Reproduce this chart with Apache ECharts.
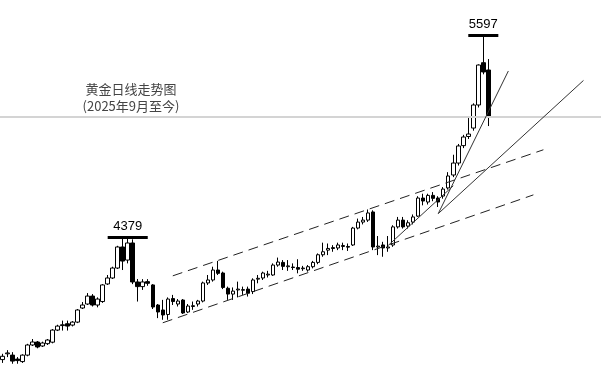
<!DOCTYPE html>
<html>
<head>
<meta charset="utf-8">
<script src="https://cdn.jsdelivr.net/npm/echarts@6/dist/echarts.min.js"></script>
<style>
  html, body { margin: 0; padding: 0; background: #fff; }
  #chart-container { width: 601px; height: 378px; }
</style>
</head>
<body>
<div id="chart-container"></div>
<script>
// 交易日（2025-09-15 至 2026-01-30）
var dates = [
  '9/15','9/16','9/17','9/18','9/19','9/22','9/23','9/24','9/25','9/26','9/29','9/30',
  '10/1','10/2','10/3','10/6','10/7','10/8','10/9','10/10','10/13','10/14','10/15','10/16','10/17',
  '10/20','10/21','10/22','10/23','10/24','10/27','10/28','10/29','10/30','10/31',
  '11/3','11/4','11/5','11/6','11/7','11/10','11/11','11/12','11/13','11/14',
  '11/17','11/18','11/19','11/20','11/21','11/24','11/25','11/26','11/27','11/28',
  '12/1','12/2','12/3','12/4','12/5','12/8','12/9','12/10','12/11','12/12',
  '12/15','12/16','12/17','12/18','12/19','12/22','12/23','12/24','12/26','12/29','12/30','12/31',
  '1/2','1/5','1/6','1/7','1/8','1/9','1/12','1/13','1/14','1/15','1/16',
  '1/19','1/20','1/21','1/22','1/23','1/26','1/27','1/28','1/29','1/30'
];
// 右侧留白（空的类目位，供趋势线延伸）
var blankSlots = 22;

// [开盘, 收盘, 最低, 最高]
var kline = [
  [3640,3660,3620,3675],[3675,3680,3655,3697],[3667,3631,3615,3685],[3643,3634,3615,3655],
  [3628,3667,3620,3672],[3667,3728,3660,3735],[3728,3746,3722,3764],[3746,3716,3708,3752],
  [3722,3740,3716,3748],[3736,3758,3728,3764],[3745,3818,3738,3824],[3818,3842,3812,3850],
  [3845,3850,3815,3875],[3856,3842,3815,3875],[3848,3866,3840,3872],[3866,3939,3860,3945],
  [3951,3969,3945,3987],[3975,4023,3969,4041],[4023,3969,3960,4035],[3969,4005,3955,4015],
  [3990,4090,3982,4095],[4096,4132,4090,4150],[4132,4192,4126,4200],[4192,4319,4186,4326],
  [4319,4234,4180,4379],[4240,4343,4220,4370],[4343,4108,4095,4365],[4108,4080,3990,4126],
  [4080,4108,4060,4125],[4110,4100,4085,4125],[4090,3957,3945,4095],[3969,3927,3890,3975],
  [3939,3909,3880,4000],[3912,4005,3880,4015],[4008,3990,3969,4030],[3975,3993,3960,4005],
  [3999,3921,3915,4005],[3927,3963,3921,3975],[3960,3965,3940,3990],[3975,3993,3960,4000],
  [3993,4102,3985,4110],[4102,4120,4090,4150],[4120,4180,4110,4200],[4180,4160,4150,4235],
  [4162,4075,4065,4170],[4070,4035,4000,4080],[4035,4053,4000,4075],[4060,4065,4015,4110],
  [4058,4062,4030,4080],[4065,4040,4020,4080],[4050,4120,4035,4130],[4125,4130,4100,4150],
  [4132,4162,4120,4170],[4150,4155,4135,4175],[4150,4210,4145,4220],[4210,4228,4200,4255],
  [4226,4202,4180,4240],[4200,4205,4175,4240],[4198,4195,4180,4220],[4195,4185,4160,4245],
  [4188,4192,4175,4205],[4180,4200,4170,4210],[4200,4226,4190,4235],[4226,4272,4215,4280],
  [4272,4290,4260,4345],[4300,4310,4270,4340],[4315,4310,4290,4330],[4313,4331,4300,4345],
  [4322,4328,4300,4345],[4322,4318,4295,4340],[4331,4433,4325,4440],[4433,4469,4425,4490],
  [4469,4481,4455,4500],[4481,4524,4470,4545],[4530,4319,4300,4540],[4319,4324,4270,4385],
  [4331,4313,4260,4350],[4313,4319,4290,4385],[4331,4440,4320,4450],[4440,4481,4430,4500],
  [4481,4440,4430,4500],[4445,4465,4430,4480],[4469,4500,4455,4515],[4505,4614,4500,4625],
  [4614,4596,4570,4640],[4590,4630,4575,4640],[4630,4612,4595,4650],[4614,4590,4560,4625],
  [4626,4668,4610,4680],[4675,4747,4665,4770],[4753,4825,4740,4875],[4825,4928,4810,4940],
  [4930,4982,4915,4995],[4985,5000,4970,5100],[5036,5175,5020,5185],[5175,5416,5160,5420],
  [5430,5374,5360,5597],[5386,5103,5048,5452]
];

// 标注：高点
var peakHigh = { from: 93, to: 99, price: 5597 };
var peakLow = { from: 21, to: 29, price: 4379 };
var levelLine = 5103;

// 通道（虚线）与趋势线：[起点索引, 起点价格, 终点索引, 终点价格]
var channelUpper = [34, 4145, 108, 4905];
var channelLower = [32, 3862, 106, 4633];
var trendLines = [
  [77, 4328, 90, 4688],
  [87, 4520, 101, 5380],
  [87, 4520, 116, 5323]
];

var categories = dates.slice();
for (var i = 0; i < blankSlots; i++) categories.push('');

var container = document.getElementById('chart-container');
var myChart = echarts.init(container, null, { renderer: 'canvas' });

function seg(p, style) {
  return [
    { coord: [p[0], p[1]], lineStyle: style },
    { coord: [p[2], p[3]] }
  ];
}

function peakSeg(pk) {
  return [
    {
      coord: [pk.from, pk.price],
      lineStyle: { color: '#000', width: 3, type: 'solid' },
      label: {
        show: true,
        formatter: String(pk.price),
        position: 'insideMiddleTop',
        distance: 4,
        color: '#000',
        fontSize: 13,
        fontFamily: 'Liberation Sans, Arial, sans-serif'
      }
    },
    { coord: [pk.to, pk.price] }
  ];
}

var dashStyle = { color: '#222', width: 1, type: [10, 6] };
var thinStyle = { color: '#333', width: 1, type: 'solid' };

var markData = [
  { yAxis: levelLine, lineStyle: { color: '#d4d4d4', width: 2, type: 'solid' } },
  seg(channelUpper, dashStyle),
  seg(channelLower, dashStyle),
  peakSeg(peakHigh),
  peakSeg(peakLow)
];
trendLines.forEach(function (t) { markData.push(seg(t, thinStyle)); });

myChart.setOption({
  animation: false,
  backgroundColor: '#fff',
  title: {
    text: '黄金日线走势图\n(2025年9月至今)',
    left: 126,
    top: 76,
    textAlign: 'center',
    textStyle: {
      fontSize: 13,
      fontWeight: 'normal',
      color: '#444',
      lineHeight: 17,
      fontFamily: 'Noto Sans CJK SC, sans-serif'
    }
  },
  grid: { left: 0, right: 0, top: 0, bottom: 0, containLabel: false },
  xAxis: {
    type: 'category',
    data: categories,
    boundaryGap: true,
    show: false
  },
  yAxis: {
    type: 'value',
    min: 3529,
    max: 5808,
    show: false,
    splitLine: { show: false }
  },
  series: [
    {
      name: '黄金',
      type: 'candlestick',
      data: kline,
      barWidth: 4,
      itemStyle: {
        color: '#fff',
        color0: '#000',
        borderColor: '#000',
        borderColor0: '#000',
        borderWidth: 1
      },
      markLine: {
        silent: true,
        symbol: ['none', 'none'],
        label: { show: false },
        data: markData
      }
    }
  ]
});
</script>
</body>
</html>
